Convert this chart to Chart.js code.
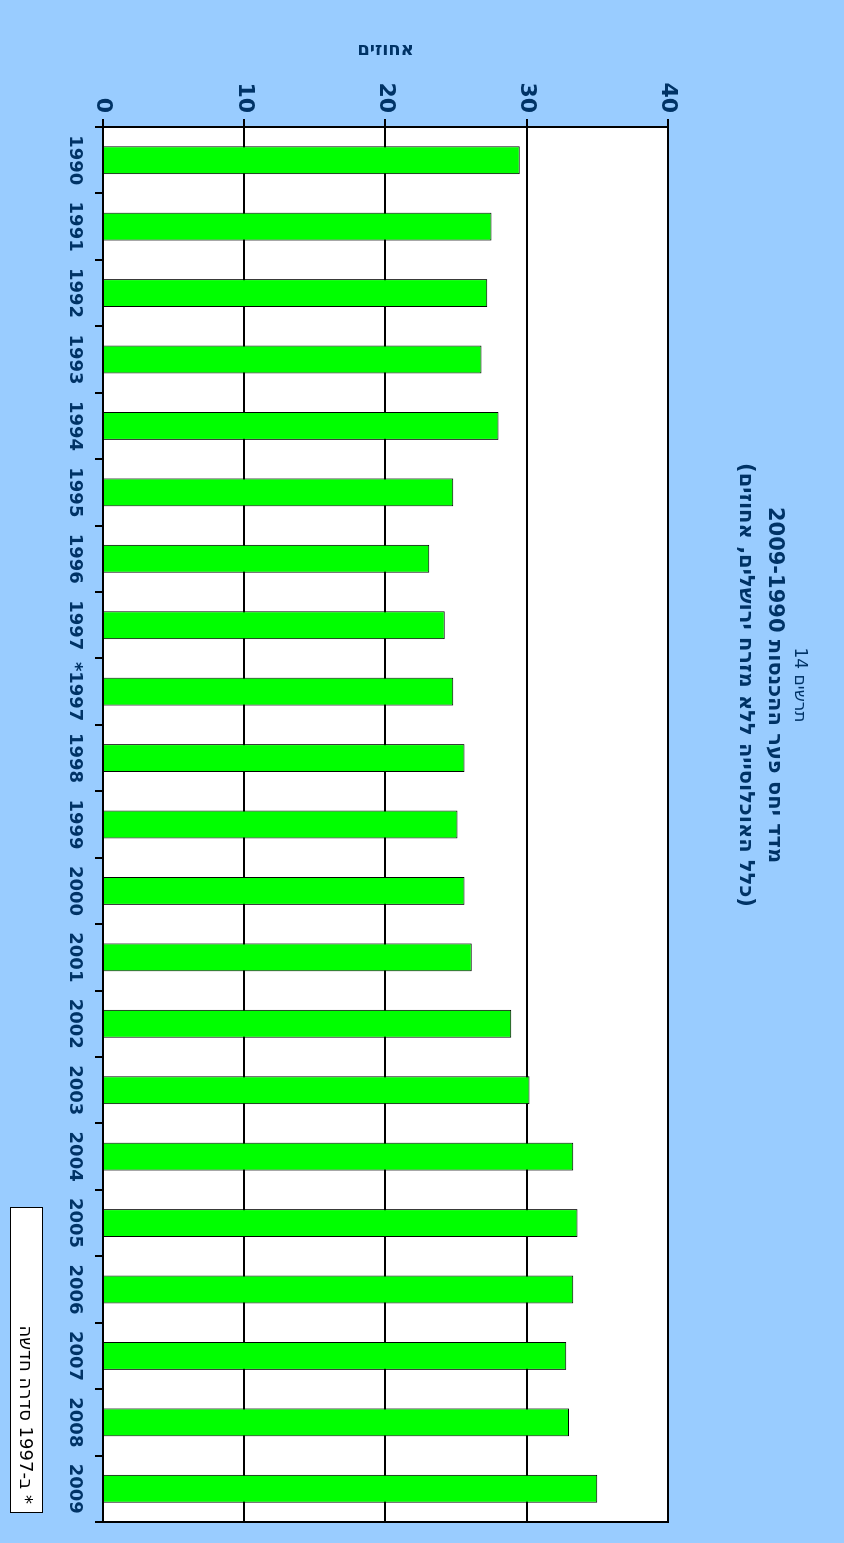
<!DOCTYPE html>
<html lang="he">
<head>
<meta charset="UTF-8" />
<title>תרשים 14</title>
<script src="https://cdn.jsdelivr.net/npm/chart.js"></script>
<style>
    html, body { margin: 0; padding: 0; background: #99ccff; }
    body { width: 844px; height: 1543px; overflow: hidden; position: relative; }
    #wrap {
        position: absolute; left: 0; top: 0; width: 1543px; height: 844px;
        transform-origin: 0 0; transform: translate(844px, 0) rotate(90deg);
        background: #99ccff; font-family: "DejaVu Sans", sans-serif; color: #003366;
    }
    #chartBox { position: absolute; left: 0; top: 0; width: 1543px; height: 844px; }
    .title { position: absolute; left: 285px; width: 800px; text-align: center; direction: rtl; white-space: nowrap; }
    #t1 { top: 33px; font-size: 17px; }
    #t2 { top: 56px; font-size: 21px; font-weight: bold; }
    #t3 { top: 85px; font-size: 21px; font-weight: bold; }
    #note {
        position: absolute; left: 1207px; top: 801px; width: 306px; height: 33px;
        background: #fff; border: 1px solid #000; color: #000; font-size: 18px;
        direction: rtl; text-align: right; padding-right: 8px; line-height: 31px; box-sizing: border-box;
    }
</style>
</head>
<body>
<div id="wrap">
    <div id="chartBox"><canvas id="c"></canvas></div>
    <div class="title" id="t1">תרשים 14</div>
    <div class="title" id="t2">מדד יחס פער ההכנסות 2009-1990</div>
    <div class="title" id="t3">(כלל האוכלוסייה ללא מזרח ירושלים, אחוזים)</div>
    <div id="note">* ב-1997 סדרה חדשה</div>
</div>
<script>
    const years = ['1990', '1991', '1992', '1993', '1994', '1995', '1996', '1997', '*1997', '1998',
        '1999', '2000', '2001', '2002', '2003', '2004', '2005', '2006', '2007', '2008', '2009'];
    const ratio = [29.5, 27.5, 27.2, 26.8, 28.0, 24.8, 23.1, 24.2, 24.8, 25.6,
        25.1, 25.6, 26.1, 28.9, 30.2, 33.3, 33.6, 33.3, 32.8, 33.0, 35.0];
    const yTicks = [0, 10, 20, 30, 40];

    const frame = {
        id: 'frame',
        beforeDraw(chart) {
            const a = chart.chartArea, ctx = chart.ctx;
            ctx.save();
            ctx.fillStyle = '#fff';
            ctx.fillRect(a.left, a.top, a.right - a.left, a.bottom - a.top);
            ctx.restore();
        },
        afterDraw(chart) {
            const a = chart.chartArea, ctx = chart.ctx;
            ctx.save();
            ctx.strokeStyle = '#000';
            ctx.lineWidth = 2;
            ctx.strokeRect(a.left, a.top, a.right - a.left, a.bottom - a.top);
            ctx.restore();
        }
    };

    const navy = '#003366';
    const tickFont = { family: 'DejaVu Sans', size: 18, weight: 'bold' };

    new Chart(document.getElementById('c'), {
        type: 'bar',
        data: {
            labels: years,
            datasets: [{
                data: ratio,
                backgroundColor: '#00ff00',
                borderColor: '#000',
                borderWidth: 1,
                categoryPercentage: 1,
                barPercentage: 0.42
            }]
        },
        options: {
            responsive: true,
            maintainAspectRatio: false,
            animation: false,
            layout: { padding: { left: 36, right: 21, top: 176, bottom: 10 } },
            plugins: { legend: { display: false }, tooltip: { enabled: false } },
            scales: {
                x: {
                    offset: true,
                    grid: { offset: true, drawOnChartArea: false, color: '#000', lineWidth: 2, tickLength: 8 },
                    border: { color: '#000', width: 2 },
                    ticks: { color: navy, font: tickFont, padding: 10, maxRotation: 0, autoSkip: false },
                    afterFit(s) { s.height = 93; }
                },
                y: {
                    min: 0, max: 40,
                    afterBuildTicks(s) { s.ticks = yTicks.map(v => ({ value: v })); },
                    grid: { color: '#000', lineWidth: 2, tickLength: 8 },
                    border: { color: '#000', width: 2 },
                    ticks: { color: navy, font: { family: 'DejaVu Sans', size: 22, weight: 'bold' }, padding: 6 },
                    title: { display: true, text: 'אחוזים', color: navy, font: { family: 'DejaVu Sans', size: 18, weight: 'bold' } },
                    afterFit(s) { s.width = 91; }
                }
            }
        },
        plugins: [frame]
    });
</script>
</body>
</html>
